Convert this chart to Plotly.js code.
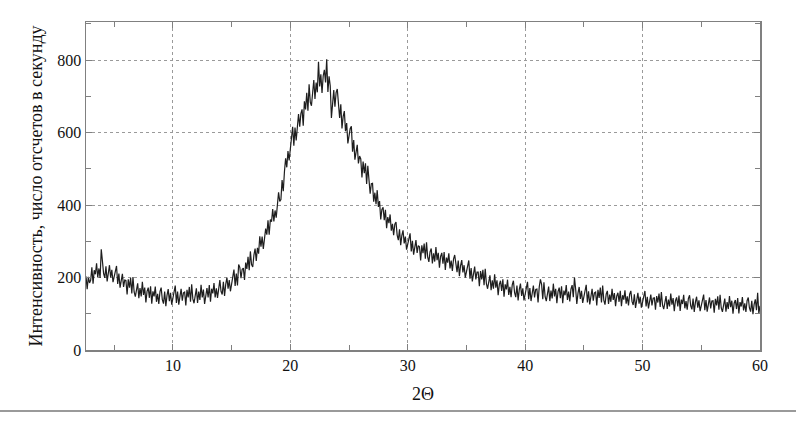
<!DOCTYPE html>
<html>
<head>
<meta charset="utf-8">
<script src="https://cdn.plot.ly/plotly-3.0.1.min.js"></script>
<style>html,body{margin:0;padding:0;background:#fff;}#chart{width:796px;height:424px;}</style>
</head>
<body>
<div id="chart"></div>
<script>
// Sampling of the scan: first angle and step (degrees 2θ)
const scanStart = 2.6;
const scanStep = 0.1;

// Intensity readings (counts per second), one row per degree
const intensity = [
  203, 168, 202, 185,
  193, 228, 183, 220, 209, 239, 200, 225, 199, 278,
  245, 211, 199, 231, 189, 218, 234, 200, 221, 187,
  202, 223, 232, 182, 211, 172, 192, 210, 174, 193,
  192, 153, 195, 172, 199, 156, 201, 160, 147, 174,
  184, 143, 171, 148, 188, 152, 172, 131, 162, 172,
  144, 176, 128, 162, 148, 175, 133, 155, 127, 161,
  172, 139, 128, 161, 121, 151, 168, 135, 158, 125,
  144, 167, 178, 130, 161, 125, 148, 169, 136, 158,
  160, 123, 166, 145, 174, 133, 181, 141, 129, 158,
  170, 130, 161, 138, 180, 145, 167, 127, 159, 171,
  145, 179, 133, 169, 156, 185, 145, 170, 144, 179,
  193, 162, 153, 188, 149, 181, 200, 169, 193, 162,
  182, 208, 222, 177, 211, 178, 236, 228, 198, 223,
  226, 193, 241, 224, 257, 220, 272, 236, 229, 262,
  280, 246, 282, 266, 314, 285, 313, 279, 318, 335,
  318, 358, 318, 360, 354, 389, 355, 385, 365, 406,
  435, 410, 415, 469, 438, 492, 529, 504, 549, 523,
  552, 592, 616, 564, 614, 578, 615, 651, 616, 652,
  664, 619, 686, 664, 710, 660, 733, 684, 674, 721,
  745, 693, 738, 711, 795, 727, 761, 709, 756, 773,
  738, 802, 712, 755, 729, 640, 694, 717, 671, 710,
  720, 665, 640, 678, 611, 644, 659, 604, 626, 570,
  589, 611, 617, 547, 579, 525, 546, 566, 515, 535,
  527, 476, 520, 488, 515, 458, 508, 453, 431, 459,
  460, 409, 434, 402, 441, 395, 411, 360, 388, 394,
  358, 387, 336, 367, 350, 374, 329, 348, 317, 347,
  353, 317, 303, 333, 289, 316, 330, 294, 313, 277,
  292, 313, 322, 272, 301, 263, 284, 303, 268, 288,
  285, 247, 289, 267, 294, 252, 297, 256, 243, 271,
  280, 239, 267, 244, 284, 248, 268, 227, 258, 268,
  238, 270, 221, 255, 241, 267, 225, 247, 218, 251,
  262, 228, 215, 247, 204, 233, 248, 214, 234, 200,
  216, 237, 247, 197, 226, 189, 210, 230, 195, 215,
  215, 176, 218, 195, 221, 179, 224, 183, 169, 196,
  206, 165, 192, 169, 209, 172, 192, 151, 181, 191,
  163, 195, 147, 181, 167, 194, 152, 174, 146, 180,
  191, 158, 146, 178, 137, 167, 183, 149, 170, 137,
  154, 177, 188, 140, 171, 135, 158, 178, 145, 167,
  168, 131, 174, 195, 181, 140, 187, 147, 135, 164,
  175, 135, 164, 142, 183, 148, 169, 129, 161, 172,
  143, 176, 129, 164, 151, 179, 138, 161, 134, 168,
  179, 146, 200, 168, 127, 157, 174, 141, 163, 130,
  146, 169, 180, 131, 162, 126, 149, 169, 136, 158,
  160, 123, 166, 144, 172, 131, 178, 137, 125, 154,
  163, 127, 153, 133, 169, 138, 157, 121, 149, 158,
  133, 163, 121, 151, 139, 165, 128, 148, 123, 154,
  163, 134, 124, 154, 116, 143, 158, 128, 147, 117,
  133, 153, 163, 120, 147, 115, 135, 153, 123, 143,
  144, 111, 149, 131, 156, 119, 160, 124, 113, 139,
  149, 113, 139, 120, 156, 125, 143, 107, 136, 145,
  120, 150, 108, 139, 127, 152, 115, 135, 111, 142,
  151, 122, 112, 142, 105, 132, 147, 117, 137, 107,
  123, 143, 153, 110, 138, 106, 126, 145, 115, 135,
  136, 103, 141, 123, 148, 111, 152, 116, 105, 131,
  142, 106, 132, 113, 149, 118, 136, 100, 129, 138,
  113, 143, 101, 132, 120, 146, 109, 129, 105, 136,
  145, 116, 106, 136, 99, 126, 140, 110, 158, 100,
  122
];

const xTickVals = [10, 20, 30, 40, 50, 60];
const yTickVals = [0, 200, 400, 600, 800];
const xTitle = '2Θ';
const yTitle = 'Интенсивность, число отсчетов в секунду';

const angles = intensity.map((_, i) => +(scanStart + i * scanStep).toFixed(2));

const serif = '"Liberation Serif", "DejaVu Serif", serif';

const trace = {
  x: angles,
  y: intensity,
  type: 'scatter',
  mode: 'lines',
  line: {color: '#1e1e1e', width: 1.2},
  hoverinfo: 'skip'
};

const axisCommon = {
  showline: true,
  linecolor: '#808080',
  linewidth: 1.5,
  mirror: 'ticks',
  ticks: 'inside',
  ticklen: 6,
  tickcolor: '#808080',
  showgrid: true,
  gridcolor: '#9a9a9a',
  griddash: 'dot',
  gridwidth: 1,
  zeroline: false,
  tickfont: {family: serif, size: 16, color: '#111'}
};

const layout = {
  width: 796,
  height: 424,
  margin: {l: 86, r: 36, t: 22, b: 74},
  paper_bgcolor: '#fff',
  plot_bgcolor: '#fff',
  showlegend: false,
  xaxis: Object.assign({}, axisCommon, {
    range: [2.6, 60],
    tickvals: xTickVals,
    ticktext: xTickVals.map(String),
    minor: {dtick: 5, tick0: 0, ticks: 'inside', ticklen: 5, tickcolor: '#808080', showgrid: false},
    title: {text: xTitle, font: {family: serif, size: 18, color: '#111'}, standoff: 14}
  }),
  yaxis: Object.assign({}, axisCommon, {
    range: [0, 905],
    tickvals: yTickVals,
    ticktext: yTickVals.map(String),
    minor: {dtick: 100, tick0: 0, ticks: 'inside', ticklen: 5, tickcolor: '#808080', showgrid: false},
    title: {text: yTitle, font: {family: serif, size: 18, color: '#111'}, standoff: 10}
  }),
  shapes: [{
    type: 'line', xref: 'paper', yref: 'paper',
    x0: -86/674, x1: 710/674, y0: -61/328, y1: -61/328,
    line: {color: '#9a9a9a', width: 2}
  }]
};

Plotly.newPlot('chart', [trace], layout, {displayModeBar: false, staticPlot: true});
</script>
</body>
</html>
